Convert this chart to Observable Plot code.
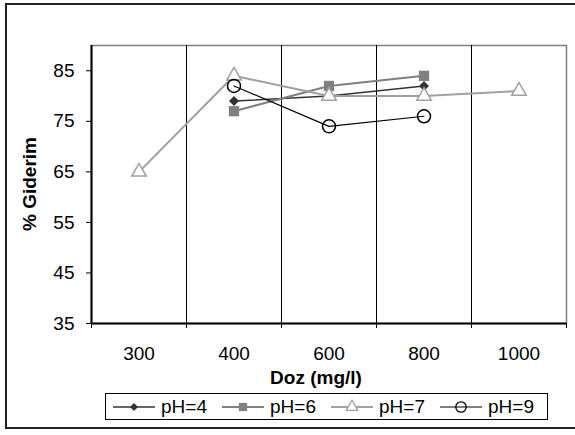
<!DOCTYPE html>
<html>
<head>
<meta charset="utf-8">
<script src="https://cdn.jsdelivr.net/npm/d3@7"></script>
<script src="https://cdn.jsdelivr.net/npm/@observablehq/plot@0.6"></script>
<style>
  html, body { margin: 0; padding: 0; background: #fff; }
  body { width: 575px; height: 435px; overflow: hidden; font-family: "Liberation Sans", Arial, sans-serif; }
  #wrap { position: relative; width: 575px; height: 435px; overflow: hidden; }
  #outer { position: absolute; left: 5px; top: 3px; width: 620px; height: 426px; border: 2px solid #222; box-sizing: border-box; }
  #chart { position: absolute; left: 0; top: 0; }
  .ytitle { position: absolute; left: 30px; top: 184px; transform: translate(-50%, -50%) rotate(-90deg); font-weight: bold; font-size: 19px; white-space: nowrap; color: #000; }
  .xtitle { position: absolute; left: 316px; top: 367px; transform: translateX(-50%); font-weight: bold; font-size: 19px; white-space: nowrap; color: #000; }
  #legend { position: absolute; left: 105px; top: 393px; width: 443px; height: 27px; border: 1px solid #000; box-sizing: border-box; background: #fff; }
  .item { position: absolute; top: 0; height: 25px; display: flex; align-items: center; font-size: 19px; color: #000; }
  .item svg { display: block; margin-right: 6px; }
</style>
</head>
<body>
<div id="wrap">
  <div id="outer"></div>
  <div id="chart"></div>
  <div class="ytitle">% Giderim</div>
  <div class="xtitle">Doz (mg/l)</div>
  <div id="legend"></div>
</div>
<script>
// ---- data ----
const doses = ["300", "400", "600", "800", "1000"];
const yTicks = [35, 45, 55, 65, 75, 85];
const seriesNames = ["pH=4", "pH=6", "pH=7", "pH=9"];
const pH4 = [null, 79, 80, 82, null];
const pH6 = [null, 77, 82, 84, null];
const pH7 = [65, 84, 80, 80, 81];
const pH9 = [null, 82, 74, 76, null];

// ---- styles ----
const styles = [
  {values: pH4, symbol: "diamond2", r: 4.5, fill: "#333333", lineColor: "#333333", lineWidth: 1.5, markStroke: "none"},
  {values: pH6, symbol: "square", r: 5.8, fill: "#808080", lineColor: "#808080", lineWidth: 2, markStroke: "none"},
  {values: pH7, symbol: "triangle", r: 5.4, fill: "white", lineColor: "#a0a0a0", lineWidth: 2, markStroke: "#a0a0a0"},
  {values: pH9, symbol: "circle", r: 6.5, fill: "none", lineColor: "#000000", lineWidth: 1.2, markStroke: "#000000"}
];

const idx = doses.map((d, i) => i);
const inner = idx.slice(1).map(i => i - 0.5);
const edges = idx.map(i => i - 0.5).concat([doses.length - 0.5]);

const seriesMarks = styles.flatMap((s, k) => {
  const rows = doses.map((d, i) => ({i, dose: d, v: s.values[i], name: seriesNames[k]}));
  const pts = rows.filter(r => r.v != null);
  return [
    Plot.line(rows, {x: "i", y: "v", stroke: s.lineColor, strokeWidth: s.lineWidth}),
    Plot.dot(pts, {x: "i", y: "v", symbol: () => s.symbol, r: s.r, fill: s.fill, stroke: s.markStroke, strokeWidth: 1.5})
  ];
});

const chart = Plot.plot({
  width: 575,
  height: 390,
  marginLeft: 91,
  marginRight: 9,
  marginTop: 45,
  marginBottom: 67,
  x: {domain: [-0.5, doses.length - 0.5], axis: null},
  y: {domain: [35, 90], axis: null},
  symbol: {type: "identity"},
  style: {fontFamily: "'Liberation Sans', Arial, sans-serif", fontSize: "19px", background: "transparent", color: "#000"},
  marks: [
    Plot.frame({stroke: "#808080", strokeWidth: 1.5}),
    Plot.ruleX(inner, {stroke: "#000", strokeWidth: 1}),
    Plot.ruleY([35], {stroke: "#000", strokeWidth: 2}),
    Plot.ruleX([-0.5], {stroke: "#000", strokeWidth: 2}),
    Plot.axisY({ticks: yTicks, tickSize: 5, tickPadding: 12, label: null, fontSize: 19}),
    Plot.axisX({ticks: idx, tickFormat: i => doses[i], tickSize: 0, tickPadding: 23, label: null, fontSize: 19}),
    Plot.axisX({ticks: edges, tickFormat: () => "", tickSize: 5, label: null}),
    ...seriesMarks
  ]
});
document.getElementById("chart").appendChild(chart);

// ---- legend ----
const legend = document.getElementById("legend");
const typeMap = {diamond2: d3.symbolDiamond2, square: d3.symbolSquare, triangle: d3.symbolTriangle, circle: d3.symbolCircle};
styles.forEach((s, k) => {
  const item = document.createElement("div");
  item.className = "item";
  item.style.left = (7 + k * 109) + "px";
  const svg = d3.create("svg").attr("width", 42).attr("height", 20);
  svg.append("line").attr("x1", 0).attr("x2", 42).attr("y1", 10).attr("y2", 10)
    .attr("stroke", s.lineColor).attr("stroke-width", s.lineWidth);
  const lr = s.r * 0.8;
  svg.append("path").attr("transform", "translate(21,10)")
    .attr("d", d3.symbol(typeMap[s.symbol], lr * lr * Math.PI)())
    .attr("fill", s.fill).attr("stroke", s.markStroke).attr("stroke-width", 1.3);
  item.appendChild(svg.node());
  const t = document.createElement("span");
  t.textContent = seriesNames[k];
  item.appendChild(t);
  legend.appendChild(item);
});
</script>
</body>
</html>
